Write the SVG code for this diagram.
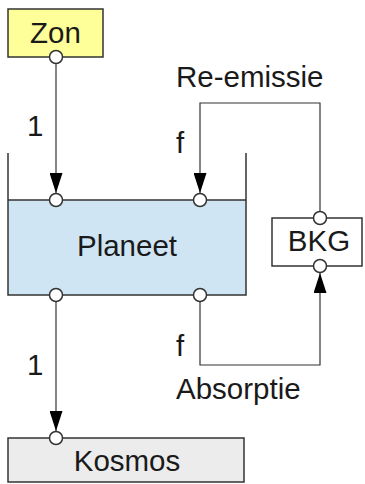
<svg xmlns="http://www.w3.org/2000/svg" width="365" height="484" viewBox="0 0 365 484">
<style>
text{font-family:"Liberation Sans",Arial,sans-serif;font-size:29.5px;fill:#1a1a1a}
.lbl{text-anchor:middle}
.box{stroke:#333;stroke-width:1.5}
.port{fill:#fff;stroke:#333;stroke-width:1.5}
.wire{fill:none;stroke:#333;stroke-width:1.2}
</style>
<defs>
<marker id="ah" viewBox="0 0 20 13" refX="20" refY="6.5" markerWidth="20" markerHeight="13" markerUnits="userSpaceOnUse" orient="auto">
<path d="M0,0 L20,6.5 L0,13 Z" fill="#000"/>
</marker>
</defs>
<g id="connectors">
<path class="wire" d="M56,57 V193" marker-end="url(#ah)"/>
<path class="wire" d="M56,295 V431" marker-end="url(#ah)"/>
<path class="wire" d="M320,218 V103 H200 V193" marker-end="url(#ah)"/>
<path class="wire" d="M200,295 V365 H320 V273" marker-end="url(#ah)"/>
<text x="27" y="136">1</text>
<text x="27" y="375">1</text>
<text x="176" y="153">f</text>
<text x="176" y="356">f</text>
<text x="176" y="87">Re-emissie</text>
<text x="176" y="399">Absorptie</text>
</g>
<g id="zon">
<rect class="box" x="8" y="9" width="95" height="48" fill="#ffff99"/>
<text class="lbl" x="55.5" y="43">Zon</text>
<circle class="port" cx="56" cy="57" r="6.5"/>
</g>
<g id="planeet">
<rect x="8" y="200" width="238" height="95" fill="#cfe5f4"/>
<path class="box" fill="none" d="M8,153 V295 H246 V153 M8,200 H246"/>
<text class="lbl" x="127" y="256">Planeet</text>
<circle class="port" cx="56" cy="200" r="6.5"/>
<circle class="port" cx="200" cy="200" r="6.5"/>
<circle class="port" cx="56" cy="295" r="6.5"/>
<circle class="port" cx="200" cy="295" r="6.5"/>
</g>
<g id="bkg">
<rect class="box" x="272" y="218" width="90" height="48" fill="#fff"/>
<text class="lbl" x="319" y="251">BKG</text>
<circle class="port" cx="320" cy="218" r="6.5"/>
<circle class="port" cx="320" cy="266" r="6.5"/>
</g>
<g id="kosmos">
<rect class="box" x="8" y="438" width="236" height="44" fill="#ececec"/>
<text class="lbl" x="127" y="471">Kosmos</text>
<circle class="port" cx="56" cy="438" r="6.5"/>
</g>
</svg>
